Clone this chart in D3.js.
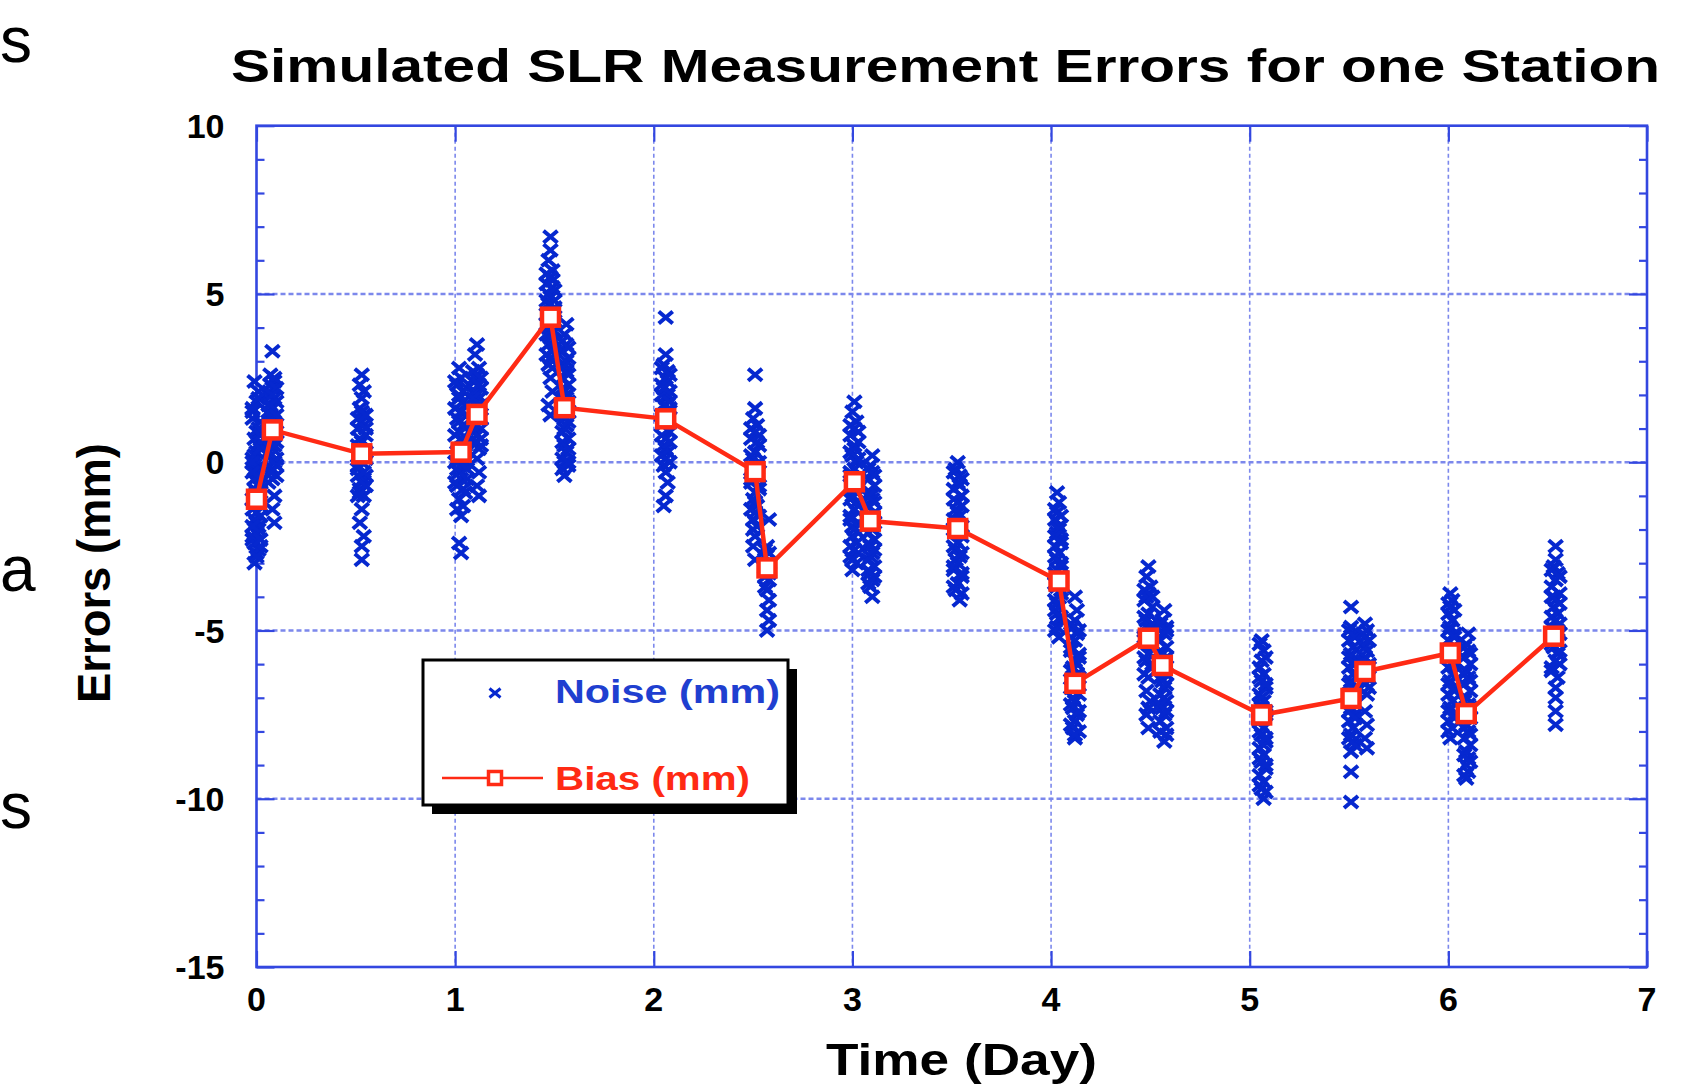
<!DOCTYPE html>
<html>
<head>
<meta charset="utf-8">
<script src="https://cdn.jsdelivr.net/npm/d3@7"></script>
<style>
  body { margin: 0; background: #fff; }
  svg { display: block; font-family: "Liberation Sans", Arial, Helvetica, sans-serif; }
</style>
</head>
<body>
<script>
// Bias (mm): one value per pass
const biasTime  = [0.00, 0.08, 0.53, 1.03, 1.11, 1.48, 1.55, 2.06, 2.51, 2.57, 3.01, 3.09, 3.53, 4.04, 4.12, 4.49, 4.56, 5.06, 5.51, 5.58, 6.01, 6.09, 6.53];
const biasValue = [-1.10, 0.96, 0.25, 0.30, 1.42, 4.31, 1.62, 1.29, -0.28, -3.14, -0.58, -1.75, -1.97, -3.53, -6.57, -5.23, -6.04, -7.51, -7.02, -6.22, -5.67, -7.47, -5.17];

// Noise (mm): [time (day), error (mm)]
const noisePoints = [
  // pass ~0.00
  [-0.01,2.4],[0.01,2.1],[0,1.8],[-0.02,1.5],[0.02,1.2],[0,0.9],[-0.01,0.7],[0.01,0.5],[0,0.3],[-0.02,0.1],[0.02,-0.1],[0,-0.3],[-0.01,-0.5],[0.01,-0.7],[0,-0.9],[-0.02,-1.1],[0.02,-1.3],[0,-1.5],[-0.01,-1.7],[0.01,-1.9],[0,-2.1],[-0.02,-2.3],[0.02,-2.5],[0,-2.7],[-0.01,-3.0],[0.01,1.0],[-0.01,0.2],[0.02,-0.6],[-0.02,-1.4],[0.01,-2.0],[0,-0.2],[0.02,0.6],[-0.01,-1.0],[0,-1.8],[0.01,-2.6],[-0.02,1.6],[0.01,-1.2],[-0.01,-2.4],
  [0.02,0.4],[-0.02,0.0],[0.01,-0.4],[-0.01,-0.8],[0.02,-1.6],[-0.02,-2.2],[0,-2.8],[0.02,0.8],[-0.02,1.3],[0.01,1.9],[-0.02,-1.9],[0.02,-0.9],[-0.02,-0.3],[0.02,-2.3],
  // pass ~0.08
  [0.08,3.3],[0.07,2.6],[0.09,2.4],[0.08,2.2],[0.06,2.0],[0.10,1.8],[0.08,1.6],[0.07,1.4],[0.09,1.2],[0.08,1.0],[0.06,0.8],[0.10,0.6],[0.08,0.4],[0.07,0.2],[0.09,0.0],[0.08,-0.2],[0.10,-0.4],[0.06,-0.6],[0.09,-1.0],[0.08,-1.4],[0.09,-1.8],[0.07,2.3],[0.09,1.9],[0.08,1.3],[0.07,0.7],[0.10,0.1],[0.08,-0.5],[0.07,1.1],[0.09,2.5],[0.06,1.5],
  [0.10,2.2],[0.06,1.7],[0.10,1.4],[0.06,1.1],[0.10,0.9],[0.06,0.3],[0.10,-0.1],[0.07,-0.3],[0.09,0.5],[0.08,2.0],[0.07,1.7],[0.09,0.8],
  // pass ~0.53
  [0.53,2.6],[0.52,2.3],[0.54,2.1],[0.53,1.9],[0.52,1.6],[0.54,1.4],[0.53,1.2],[0.51,1.0],[0.55,0.8],[0.53,0.6],[0.52,0.4],[0.54,0.2],[0.53,0.0],[0.51,-0.2],[0.55,-0.4],[0.53,-0.6],[0.52,-0.8],[0.54,-1.0],[0.53,-1.4],[0.52,-1.8],[0.54,-2.2],[0.53,-2.5],[0.53,-2.9],[0.54,1.1],[0.52,0.7],[0.55,0.3],[0.51,-0.1],[0.54,-0.5],[0.52,-0.9],[0.53,1.5],
  [0.51,1.3],[0.55,1.0],[0.51,0.5],[0.55,0.1],[0.51,-0.4],[0.55,-0.7],[0.51,-1.0],[0.55,1.4],[0.52,0.1],[0.54,-0.3],
  // pass ~1.03
  [1.02,2.8],[1.03,2.5],[1.01,2.3],[1.04,2.1],[1.02,1.9],[1.05,1.7],[1.03,1.5],[1.01,1.3],[1.04,1.1],[1.02,0.9],[1.03,0.7],[1.05,0.5],[1.01,0.3],[1.03,0.1],[1.04,-0.1],[1.02,-0.3],[1.03,-0.5],[1.01,-0.7],[1.05,-0.9],[1.02,-1.1],[1.04,-1.3],[1.03,-1.6],[1.02,-2.4],[1.03,-2.7],[1.04,1.8],[1.02,1.2],[1.03,0.4],[1.01,-0.2],[1.04,-0.8],[1.02,2.0],[1.05,0.0],
  [1.00,2.4],[1.06,2.2],[1.00,1.6],[1.06,1.4],[1.00,0.8],[1.06,0.6],[1.00,0.0],[1.06,-0.2],[1.00,-0.6],[1.06,-0.5],[1.01,-1.4],[1.05,1.0],
  // pass ~1.11
  [1.11,3.5],[1.10,3.2],[1.12,2.8],[1.11,2.6],[1.09,2.4],[1.13,2.2],[1.11,2.0],[1.10,1.8],[1.12,1.6],[1.11,1.4],[1.09,1.2],[1.13,1.0],[1.11,0.8],[1.10,0.6],[1.12,0.4],[1.11,0.1],[1.12,-0.3],[1.11,-0.7],[1.12,-1.0],[1.10,2.5],[1.12,1.9],[1.11,1.1],[1.13,0.5],[1.10,2.1],
  [1.09,2.7],[1.13,2.5],[1.09,1.9],[1.13,1.7],[1.09,1.5],[1.13,1.3],[1.09,0.9],[1.13,0.7],[1.12,2.3],
  // pass ~1.48
  [1.48,6.7],[1.48,6.3],[1.47,6.0],[1.49,5.7],[1.48,5.5],[1.46,5.3],[1.50,5.1],[1.48,4.9],[1.47,4.7],[1.49,4.5],[1.48,4.3],[1.46,4.1],[1.50,3.9],[1.48,3.7],[1.47,3.5],[1.49,3.3],[1.48,3.1],[1.47,2.9],[1.48,2.5],[1.49,2.1],[1.47,1.7],[1.48,1.4],[1.49,5.2],[1.47,4.4],[1.48,3.8],[1.50,4.8],[1.46,5.6],[1.49,3.0],
  [1.46,4.8],[1.50,4.6],[1.46,4.4],[1.50,4.2],[1.46,3.8],[1.50,3.6],[1.46,3.2],[1.50,3.4],[1.47,5.0],[1.49,5.4],[1.47,4.0],[1.49,2.8],
  // pass ~1.55
  [1.56,4.1],[1.55,3.8],[1.56,3.5],[1.54,3.3],[1.57,3.1],[1.55,2.9],[1.56,2.7],[1.54,2.5],[1.57,2.3],[1.55,2.1],[1.56,1.9],[1.54,1.7],[1.57,1.5],[1.55,1.3],[1.56,1.1],[1.54,0.9],[1.57,0.7],[1.55,0.5],[1.56,0.3],[1.54,0.1],[1.57,-0.1],[1.55,-0.4],[1.56,2.0],[1.55,1.0],[1.56,3.0],[1.55,0.0],
  [1.54,3.6],[1.57,3.4],[1.54,2.8],[1.57,2.6],[1.54,2.2],[1.57,1.8],[1.54,1.4],[1.57,1.2],[1.54,0.6],[1.57,0.4],[1.54,-0.2],[1.57,0.0],
  // pass ~2.06
  [2.06,4.3],[2.06,3.2],[2.05,2.9],[2.07,2.7],[2.06,2.5],[2.04,2.3],[2.08,2.1],[2.06,1.9],[2.05,1.7],[2.07,1.5],[2.06,1.3],[2.04,1.1],[2.08,0.9],[2.06,0.7],[2.05,0.5],[2.07,0.3],[2.06,0.1],[2.05,-0.1],[2.06,-0.3],[2.07,-0.6],[2.06,-1.0],[2.05,-1.3],[2.07,2.0],[2.05,1.2],[2.06,0.4],[2.07,2.4],
  [2.04,2.8],[2.08,2.6],[2.04,2.0],[2.08,1.8],[2.04,1.4],[2.08,1.6],[2.04,0.8],[2.08,0.6],[2.04,0.2],[2.08,0.0],[2.05,2.2],
  // pass ~2.51
  [2.51,2.6],[2.51,1.6],[2.50,1.3],[2.52,1.1],[2.51,0.9],[2.49,0.7],[2.53,0.5],[2.51,0.3],[2.50,0.1],[2.52,-0.1],[2.51,-0.3],[2.49,-0.5],[2.53,-0.7],[2.51,-0.9],[2.50,-1.1],[2.52,-1.3],[2.51,-1.5],[2.50,-1.7],[2.52,-1.9],[2.51,-2.2],[2.50,-2.5],[2.51,-2.9],[2.52,0.6],[2.50,-0.4],[2.51,-1.2],
  [2.49,1.0],[2.53,0.8],[2.49,0.2],[2.53,0.0],[2.49,-0.6],[2.53,-0.8],[2.49,-1.4],[2.53,-1.6],[2.50,-2.0],[2.52,-0.2],
  // pass ~2.57
  [2.58,-1.7],[2.57,-2.5],[2.56,-2.8],[2.58,-3.0],[2.57,-3.2],[2.58,-3.5],[2.57,-3.8],[2.58,-4.1],[2.57,-4.4],[2.58,-4.7],[2.57,-5.0],[2.56,-3.4],[2.58,-2.7],
  [2.56,-2.6],[2.58,-3.3],[2.56,-3.7],
  // pass ~3.01
  [3.01,1.8],[3.00,1.5],[3.02,1.2],[3.01,1.0],[2.99,0.8],[3.03,0.6],[3.01,0.4],[3.00,0.2],[3.02,0.0],[3.01,-0.2],[2.99,-0.4],[3.03,-0.6],[3.01,-0.8],[3.00,-1.0],[3.02,-1.2],[3.01,-1.4],[2.99,-1.6],[3.03,-1.8],[3.01,-2.0],[3.00,-2.2],[3.02,-2.4],[3.01,-2.6],[2.99,-2.8],[3.02,-3.0],[3.00,-3.2],[3.01,0.5],[3.02,-0.9],[3.00,-1.9],
  [2.99,1.1],[3.03,0.9],[2.99,0.3],[3.03,0.1],[2.99,-0.3],[3.03,-0.5],[2.99,-1.1],[3.03,-1.3],[2.99,-1.7],[3.03,-2.1],[2.99,-2.5],[3.03,-2.7],[3.00,-2.9],
  // pass ~3.09
  [3.10,0.2],[3.09,-0.1],[3.10,-0.3],[3.08,-0.5],[3.11,-0.7],[3.09,-0.9],[3.10,-1.1],[3.08,-1.3],[3.11,-1.5],[3.09,-1.7],[3.10,-1.9],[3.08,-2.1],[3.11,-2.3],[3.09,-2.5],[3.10,-2.7],[3.08,-2.9],[3.11,-3.1],[3.09,-3.3],[3.10,-3.5],[3.09,-3.7],[3.10,-4.0],[3.09,-1.0],[3.10,-2.0],[3.09,-2.8],
  [3.08,-0.2],[3.11,-0.4],[3.08,-1.0],[3.11,-1.2],[3.08,-1.6],[3.11,-1.8],[3.08,-2.4],[3.11,-2.6],[3.08,-3.2],[3.11,-3.4],[3.08,-3.6],
  // pass ~3.53
  [3.53,0.0],[3.52,-0.2],[3.54,-0.4],[3.53,-0.6],[3.51,-0.8],[3.55,-1.0],[3.53,-1.2],[3.52,-1.4],[3.54,-1.6],[3.53,-1.8],[3.51,-2.0],[3.55,-2.2],[3.53,-2.4],[3.52,-2.6],[3.54,-2.8],[3.53,-3.0],[3.51,-3.2],[3.55,-3.4],[3.53,-3.6],[3.52,-3.8],[3.54,-4.1],[3.53,-1.5],[3.52,-2.9],[3.54,-0.7],
  [3.51,-0.3],[3.55,-0.5],[3.51,-1.1],[3.55,-1.3],[3.51,-1.7],[3.55,-1.9],[3.51,-2.5],[3.55,-2.7],[3.51,-3.1],[3.55,-3.3],[3.51,-3.7],[3.55,-3.9],
  // pass ~4.04
  [4.03,-0.9],[4.04,-1.2],[4.03,-1.5],[4.02,-1.7],[4.04,-1.9],[4.03,-2.1],[4.05,-2.3],[4.02,-2.5],[4.04,-2.7],[4.03,-2.9],[4.05,-3.1],[4.02,-3.3],[4.04,-3.5],[4.03,-3.7],[4.05,-3.9],[4.02,-4.1],[4.04,-4.3],[4.03,-4.5],[4.05,-4.7],[4.03,-4.9],[4.04,-5.2],[4.03,-3.2],[4.04,-2.0],[4.03,-4.2],
  [4.02,-1.4],[4.05,-1.6],[4.02,-2.2],[4.05,-2.4],[4.02,-2.8],[4.05,-3.0],[4.02,-3.6],[4.05,-3.8],[4.02,-4.4],[4.05,-4.6],[4.02,-5.0],
  // pass ~4.12
  [4.12,-4.0],[4.13,-4.4],[4.12,-4.7],[4.11,-4.9],[4.13,-5.1],[4.12,-5.3],[4.10,-5.5],[4.14,-5.7],[4.12,-5.9],[4.11,-6.1],[4.13,-6.3],[4.12,-6.5],[4.10,-6.7],[4.14,-6.9],[4.12,-7.1],[4.11,-7.3],[4.13,-7.5],[4.12,-7.7],[4.11,-7.9],[4.12,-8.2],[4.13,-6.0],[4.11,-7.0],
  [4.10,-4.8],[4.14,-5.0],[4.10,-5.6],[4.14,-5.8],[4.10,-6.2],[4.14,-6.4],[4.10,-7.2],[4.14,-7.4],[4.10,-7.8],[4.14,-8.0],[4.12,-8.1],
  // pass ~4.49
  [4.49,-3.1],[4.48,-3.4],[4.50,-3.7],[4.49,-3.9],[4.47,-4.1],[4.51,-4.3],[4.49,-4.5],[4.48,-4.7],[4.50,-4.9],[4.49,-5.1],[4.47,-5.3],[4.51,-5.5],[4.49,-5.7],[4.48,-5.9],[4.50,-6.1],[4.49,-6.4],[4.48,-6.8],[4.50,-7.1],[4.48,-7.5],[4.49,-7.9],[4.50,-5.0],[4.48,-4.0],
  [4.47,-3.8],[4.51,-4.0],[4.47,-4.6],[4.51,-4.8],[4.47,-5.2],[4.51,-5.4],[4.47,-5.8],[4.51,-6.0],[4.47,-6.3],[4.49,-7.3],
  // pass ~4.56
  [4.57,-4.4],[4.56,-4.7],[4.58,-4.9],[4.57,-5.1],[4.55,-5.3],[4.58,-5.5],[4.56,-5.7],[4.57,-5.9],[4.55,-6.1],[4.58,-6.3],[4.56,-6.5],[4.57,-6.7],[4.55,-6.9],[4.58,-7.1],[4.56,-7.3],[4.57,-7.5],[4.55,-7.7],[4.58,-7.9],[4.57,-8.3],[4.56,-6.0],[4.57,-7.0],
  [4.55,-4.8],[4.58,-5.0],[4.55,-5.6],[4.58,-5.8],[4.55,-6.4],[4.58,-6.6],[4.55,-7.2],[4.58,-7.4],[4.55,-8.0],[4.58,-8.1],
  // pass ~5.06
  [5.06,-5.3],[5.07,-5.6],[5.06,-5.9],[5.05,-6.1],[5.07,-6.3],[5.06,-6.5],[5.08,-6.7],[5.05,-6.9],[5.07,-7.1],[5.06,-7.3],[5.08,-7.5],[5.05,-7.7],[5.07,-7.9],[5.06,-8.1],[5.08,-8.3],[5.05,-8.5],[5.07,-8.7],[5.06,-8.9],[5.08,-9.1],[5.05,-9.3],[5.07,-9.5],[5.06,-9.7],[5.07,-10.0],[5.06,-7.0],[5.07,-8.4],
  [5.05,-5.4],[5.08,-5.8],[5.05,-6.4],[5.08,-6.6],[5.05,-7.2],[5.08,-7.4],[5.05,-8.0],[5.08,-8.2],[5.05,-8.8],[5.08,-9.0],[5.05,-9.6],[5.08,-9.8],
  // pass ~5.51
  [5.51,-4.3],[5.51,-4.9],[5.52,-5.1],[5.50,-5.3],[5.52,-5.5],[5.51,-5.7],[5.53,-5.9],[5.50,-6.1],[5.52,-6.3],[5.51,-6.5],[5.53,-6.7],[5.50,-6.9],[5.52,-7.1],[5.51,-7.3],[5.53,-7.5],[5.50,-7.7],[5.52,-7.9],[5.51,-8.1],[5.52,-8.3],[5.51,-8.6],[5.51,-9.2],[5.51,-10.1],[5.52,-6.0],
  [5.50,-5.0],[5.53,-5.2],[5.50,-5.8],[5.53,-6.0],[5.50,-6.6],[5.53,-6.8],[5.50,-7.4],[5.53,-7.6],[5.50,-8.2],[5.53,-8.4],
  // pass ~5.58
  [5.58,-4.8],[5.59,-5.0],[5.58,-5.2],[5.57,-5.4],[5.59,-5.6],[5.58,-5.8],[5.60,-6.0],[5.57,-6.2],[5.59,-6.4],[5.58,-6.6],[5.59,-6.9],[5.58,-7.4],[5.59,-7.8],[5.58,-8.2],[5.59,-8.5],[5.58,-5.5],
  [5.57,-5.1],[5.60,-5.3],[5.57,-5.9],[5.60,-6.1],[5.57,-6.5],[5.60,-6.7],
  // pass ~6.01
  [6.01,-3.9],[6.02,-4.1],[6.01,-4.3],[6.00,-4.5],[6.02,-4.7],[6.01,-4.9],[6.03,-5.1],[6.00,-5.3],[6.02,-5.5],[6.01,-5.7],[6.03,-5.9],[6.00,-6.1],[6.02,-6.3],[6.01,-6.5],[6.03,-6.7],[6.00,-6.9],[6.02,-7.1],[6.01,-7.3],[6.03,-7.5],[6.00,-7.7],[6.02,-7.9],[6.01,-8.2],[6.02,-6.0],
  [6.00,-4.2],[6.03,-4.4],[6.00,-5.0],[6.03,-5.2],[6.00,-5.8],[6.03,-6.0],[6.00,-6.6],[6.03,-6.8],[6.00,-7.4],[6.03,-7.6],[6.00,-8.0],
  // pass ~6.09
  [6.10,-5.1],[6.09,-5.4],[6.10,-5.6],[6.08,-5.8],[6.11,-6.0],[6.09,-6.2],[6.10,-6.4],[6.08,-6.6],[6.11,-6.8],[6.09,-7.0],[6.10,-7.2],[6.08,-7.4],[6.11,-7.6],[6.09,-7.8],[6.10,-8.0],[6.08,-8.2],[6.11,-8.4],[6.09,-8.6],[6.10,-8.8],[6.09,-9.0],[6.10,-9.2],[6.09,-9.4],[6.10,-7.5],
  [6.08,-5.5],[6.11,-5.7],[6.08,-6.3],[6.11,-6.5],[6.08,-7.1],[6.11,-7.3],[6.08,-7.9],[6.11,-8.1],[6.08,-8.7],[6.11,-8.9],[6.08,-9.3],
  // pass ~6.53
  [6.54,-2.5],[6.54,-2.9],[6.53,-3.1],[6.55,-3.3],[6.54,-3.5],[6.52,-3.7],[6.56,-3.9],[6.54,-4.1],[6.53,-4.3],[6.55,-4.5],[6.54,-4.7],[6.52,-4.9],[6.56,-5.1],[6.54,-5.3],[6.53,-5.5],[6.55,-5.7],[6.54,-5.9],[6.52,-6.1],[6.55,-6.4],[6.54,-6.7],[6.54,-7.0],[6.54,-7.4],[6.54,-7.8],[6.53,-4.0],[6.55,-5.0],
  [6.52,-3.2],[6.56,-3.4],[6.52,-4.0],[6.56,-4.2],[6.52,-4.6],[6.56,-4.8],[6.52,-5.4],[6.56,-5.6],[6.52,-6.2],[6.56,-6.0]
];

const xTicks = [0, 1, 2, 3, 4, 5, 6, 7];
const yTicks = [10, 5, 0, -5, -10, -15];
const legendLabels = ["Noise (mm)", "Bias (mm)"];
const sideFragments = ["s", "a", "s"];   // letters of the slide text at the left edge

const svgWidth = 1686;
const svgHeight = 1089;
const margin = { top: 125.7, right: 39, bottom: 122, left: 256.5 };
const chartWidth = svgWidth - margin.left - margin.right;
const chartHeight = svgHeight - margin.top - margin.bottom;

const blue = "#0628cf";
const frameBlue = "#3347e0";
const gridBlue = "#7c88ec";
const red = "#ff2a14";

const svg = d3.select("body")
  .append("svg")
  .attr("width", svgWidth)
  .attr("height", svgHeight);

// left edge slide fragments
svg.selectAll("text.frag")
  .data(sideFragments)
  .join("text")
  .attr("class", "frag")
  .attr("x", 0)
  .attr("y", (d, i) => [62, 591, 828][i])
  .style("font-family", "'Liberation Sans', Arial, sans-serif")
  .style("font-size", "64px")
  .attr("fill", "#000")
  .text(d => d);

const chartGroup = svg.append("g")
  .attr("transform", `translate(${margin.left},${margin.top})`);

const xScale = d3.scaleLinear().domain([0, 7]).range([0, chartWidth]);
const yScale = d3.scaleLinear().domain([-15, 10]).range([chartHeight, 0]);

// grid lines (dotted)
chartGroup.append("g")
  .selectAll("line")
  .data(xTicks.slice(1, -1))
  .join("line")
  .attr("x1", d => xScale(d)).attr("x2", d => xScale(d))
  .attr("y1", 0).attr("y2", chartHeight)
  .attr("stroke", gridBlue)
  .attr("stroke-width", 1.6)
  .attr("stroke-dasharray", "4,3");

chartGroup.append("g")
  .selectAll("line")
  .data(yTicks.slice(1, -1))
  .join("line")
  .attr("x1", 0).attr("x2", chartWidth)
  .attr("y1", d => yScale(d)).attr("y2", d => yScale(d))
  .attr("stroke", gridBlue)
  .attr("stroke-width", 2.4)
  .attr("stroke-dasharray", "5,3");

// axes: ticks inward on all sides
const minorY = yScale.ticks(25).filter(d => d % 5 !== 0);
const yLeft = d3.axisLeft(yScale).tickValues(yTicks).tickSize(-18).tickFormat("");
const yLeftMinor = d3.axisLeft(yScale).tickValues(minorY).tickSize(-8).tickFormat("");
const yRight = d3.axisRight(yScale).tickValues(yTicks).tickSize(-18).tickFormat("");
const yRightMinor = d3.axisRight(yScale).tickValues(minorY).tickSize(-8).tickFormat("");
const xBottom = d3.axisBottom(xScale).tickValues(xTicks).tickSize(-16).tickFormat("");
const xTop = d3.axisTop(xScale).tickValues(xTicks).tickSize(-16).tickFormat("");

function styleAxis(g) {
  g.select(".domain").remove();
  g.selectAll(".tick line").attr("stroke", frameBlue).attr("stroke-width", 2.2);
}
chartGroup.append("g").call(yLeft).call(styleAxis);
chartGroup.append("g").call(yLeftMinor).call(styleAxis);
chartGroup.append("g").attr("transform", `translate(${chartWidth},0)`).call(yRight).call(styleAxis);
chartGroup.append("g").attr("transform", `translate(${chartWidth},0)`).call(yRightMinor).call(styleAxis);
chartGroup.append("g").attr("transform", `translate(0,${chartHeight})`).call(xBottom).call(styleAxis);
chartGroup.append("g").call(xTop).call(styleAxis);

// frame
chartGroup.append("rect")
  .attr("x", 0).attr("y", 0)
  .attr("width", chartWidth).attr("height", chartHeight)
  .attr("fill", "none")
  .attr("stroke", frameBlue)
  .attr("stroke-width", 2.6);

// tick labels
chartGroup.append("g")
  .selectAll("text")
  .data(yTicks)
  .join("text")
  .attr("x", -32)
  .attr("y", d => yScale(d))
  .attr("dy", "0.36em")
  .attr("text-anchor", "end")
  .style("font-size", "34px")
  .style("font-weight", "bold")
  .text(d => d);

chartGroup.append("g")
  .selectAll("text")
  .data(xTicks)
  .join("text")
  .attr("x", d => xScale(d))
  .attr("y", chartHeight + 44)
  .attr("text-anchor", "middle")
  .style("font-size", "34px")
  .style("font-weight", "bold")
  .text(d => d);

// noise crosses
const crossPath = "M-7,-6L7,6M-7,6L7,-6";
chartGroup.append("g")
  .selectAll("path")
  .data(noisePoints)
  .join("path")
  .attr("transform", d => `translate(${xScale(d[0])},${yScale(d[1])})`)
  .attr("d", crossPath)
  .attr("fill", "none")
  .attr("stroke", blue)
  .attr("stroke-width", 4);

// bias line + squares
const bias = biasTime.map((t, i) => ({ t: t, v: biasValue[i] }));
chartGroup.append("path")
  .datum(bias)
  .attr("d", d3.line().x(d => xScale(d.t)).y(d => yScale(d.v)))
  .attr("fill", "none")
  .attr("stroke", red)
  .attr("stroke-width", 4.5);

chartGroup.append("g")
  .selectAll("rect")
  .data(bias)
  .join("rect")
  .attr("x", d => xScale(d.t) - 8.5)
  .attr("y", d => yScale(d.v) - 8.5)
  .attr("width", 17)
  .attr("height", 17)
  .attr("fill", "#fff")
  .attr("stroke", red)
  .attr("stroke-width", 4.5);

// titles
svg.append("text")
  .attr("x", 945.5)
  .attr("y", 82)
  .attr("text-anchor", "middle")
  .attr("textLength", 1429)
  .attr("lengthAdjust", "spacingAndGlyphs")
  .style("font-size", "46px")
  .style("font-weight", "bold")
  .text("Simulated SLR Measurement Errors for one Station");

svg.append("text")
  .attr("x", 961.5)
  .attr("y", 1075)
  .attr("text-anchor", "middle")
  .attr("textLength", 271)
  .attr("lengthAdjust", "spacingAndGlyphs")
  .style("font-size", "45px")
  .style("font-weight", "bold")
  .text("Time (Day)");

svg.append("text")
  .attr("transform", "translate(110,573) rotate(-90)")
  .attr("text-anchor", "middle")
  .attr("textLength", 260)
  .attr("lengthAdjust", "spacingAndGlyphs")
  .style("font-size", "46px")
  .style("font-weight", "bold")
  .text("Errors (mm)");

// legend
const legend = svg.append("g")
  .attr("class", "legend")
  .attr("transform", "translate(423,660)");

legend.append("rect")
  .attr("x", 9).attr("y", 9)
  .attr("width", 365).attr("height", 145)
  .attr("fill", "#000");
legend.append("rect")
  .attr("x", 0).attr("y", 0)
  .attr("width", 365).attr("height", 145)
  .attr("fill", "#fff")
  .attr("stroke", "#000")
  .attr("stroke-width", 3);

legend.append("path")
  .attr("transform", "translate(72,33)")
  .attr("d", "M-5.5,-4.5L5.5,4.5M-5.5,4.5L5.5,-4.5")
  .attr("fill", "none")
  .attr("stroke", blue)
  .attr("stroke-width", 3);

legend.append("line")
  .attr("x1", 19).attr("x2", 120)
  .attr("y1", 118).attr("y2", 118)
  .attr("stroke", red)
  .attr("stroke-width", 2.5);
legend.append("rect")
  .attr("x", 72 - 6.5).attr("y", 118 - 6.5)
  .attr("width", 13).attr("height", 13)
  .attr("fill", "#fff")
  .attr("stroke", red)
  .attr("stroke-width", 3.5);

legend.selectAll("text")
  .data(legendLabels)
  .join("text")
  .attr("x", 132)
  .attr("y", (d, i) => [43, 130][i])
  .attr("textLength", (d, i) => [225, 195][i])
  .attr("lengthAdjust", "spacingAndGlyphs")
  .attr("fill", (d, i) => ["#1f3fd0", red][i])
  .style("font-size", "34px")
  .style("font-weight", "bold")
  .text(d => d);
</script>
</body>
</html>
